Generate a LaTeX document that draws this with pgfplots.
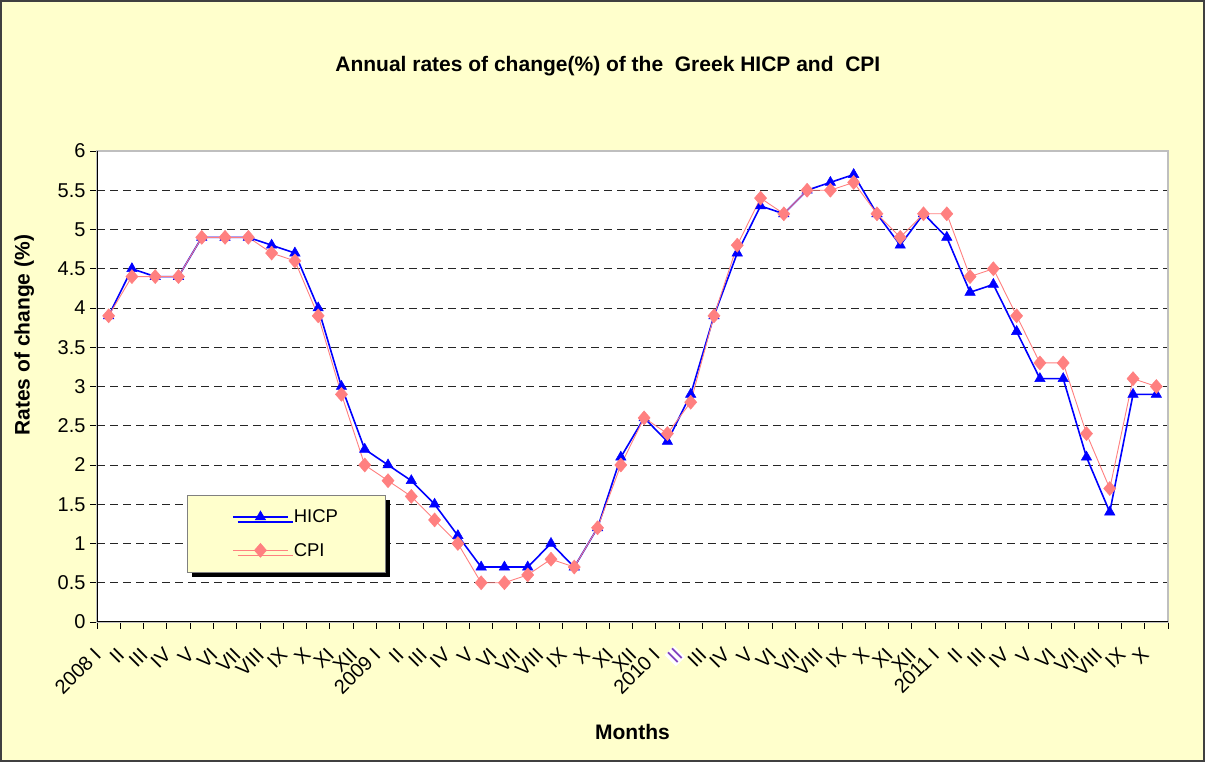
\documentclass[border=0pt]{standalone}
\usepackage{pgfplots}
\pgfplotsset{compat=1.18}
\usepackage{pgfplotstable}
\usepackage{fontspec}
\setmainfont{Liberation Sans}
\usetikzlibrary{shadows}
\definecolor{bgyellow}{HTML}{FFFFCC}
\definecolor{cpired}{HTML}{FF8080}
\definecolor{framegray}{HTML}{404040}
\definecolor{hicpblue}{HTML}{0000FF}

\pgfplotstableread{
x hicp cpi
0 3.9 3.9
1 4.5 4.4
2 4.4 4.4
3 4.4 4.4
4 4.9 4.9
5 4.9 4.9
6 4.9 4.9
7 4.8 4.7
8 4.7 4.6
9 4.0 3.9
10 3.0 2.9
11 2.2 2.0
12 2.0 1.8
13 1.8 1.6
14 1.5 1.3
15 1.1 1.0
16 0.7 0.5
17 0.7 0.5
18 0.7 0.6
19 1.0 0.8
20 0.7 0.7
21 1.2 1.2
22 2.1 2.0
23 2.6 2.6
24 2.3 2.4
25 2.9 2.8
26 3.9 3.9
27 4.7 4.8
28 5.3 5.4
29 5.2 5.2
30 5.5 5.5
31 5.6 5.5
32 5.7 5.6
33 5.2 5.2
34 4.8 4.9
35 5.2 5.2
36 4.9 5.2
37 4.2 4.4
38 4.3 4.5
39 3.7 3.9
40 3.1 3.3
41 3.1 3.3
42 2.1 2.4
43 1.4 1.7
44 2.9 3.1
45 2.9 3.0
}\datatable

\begin{document}
\begin{tikzpicture}
\useasboundingbox (0pt,0pt) rectangle (1205pt,762pt);
\fill[bgyellow] (0pt,0pt) rectangle (1205pt,762pt);
\draw[framegray, line width=2pt] (1pt,1pt) rectangle (1204pt,761pt);
\begin{axis}[
  at={(97pt,140pt)}, anchor=south west,
  scale only axis, width=1071pt, height=471pt,
  xmin=-0.5, xmax=45.5, ymin=0, ymax=6,
  axis background/.style={fill=white},
  axis line style={draw=black!25, line width=1.5pt},
  tick pos=left, tick align=outside,
  tick style={black, line width=0.8pt},
  major tick length=7pt,
  ytick={0,0.5,...,6},
  yticklabels={0,0.5,1,1.5,2,2.5,3,3.5,4,4.5,5,5.5,6},
  yticklabel style={font=\fontsize{20}{22}\selectfont, xshift=-1pt},
  xtick={-0.5,0.5,...,45.5},
  xticklabels={2008 I,II,III,IV,V,VI,VII,VIII,IX,X,XI,XII,
               2009 I,II,III,IV,V,VI,VII,VIII,IX,X,XI,XII,
               2010 I,{\setlength{\fboxsep}{1pt}\colorbox{white}{\textcolor[HTML]{8040C0}{II}}},III,IV,V,VI,VII,VIII,IX,X,XI,XII,
               2011 I,II,III,IV,V,VI,VII,VIII,IX,X,{}},
  xticklabel style={font=\fontsize{20}{22}\selectfont, xshift=3pt, yshift=-20pt, anchor=east, rotate=45},
  ymajorgrids,
  major grid style={black!85, line width=0.9pt, dash pattern=on 8pt off 5pt},
  title={Annual rates of change(\%) of the\ \ Greek HICP and\ \ CPI},
  title style={font=\bfseries\fontsize{21}{24}\selectfont, at={(0.477,1.168)}, anchor=center},
  xlabel={Months},
  xlabel style={font=\bfseries\fontsize{21}{24}\selectfont, at={(0.5,-0.2335)}, anchor=center},
  ylabel={Rates of change (\%)},
  ylabel style={font=\bfseries\fontsize{21}{24}\selectfont, at={(-0.0680,0.609)}, anchor=center},
  legend cell align=left,
  legend image code/.code={
    \draw[mark repeat=2,mark phase=2,#1] plot coordinates {(0pt,0pt) (27.5pt,0pt) (55pt,0pt)};
  },
  legend style={at={(0.084,0.2696)}, anchor=north west, fill=bgyellow, draw=black!50,
    inner xsep=45pt, inner ysep=12.5pt, row sep=15pt, column sep=3pt,
    font=\fontsize{18.5}{20}\selectfont,
    drop shadow={shadow xshift=5pt, shadow yshift=-5pt, fill=black, opacity=1}},
]
\addplot[hicpblue, line width=1.6pt, mark=triangle*, mark size=6pt, mark options={solid, fill=hicpblue, draw=hicpblue, line width=0.5pt}]
  table[x=x, y=hicp] {\datatable};
\addlegendentry{HICP}
\addplot[cpired, line width=0.9pt, mark=diamond*, mark size=7pt, mark options={solid, xscale=1.15, fill=cpired, draw=cpired, line width=0.5pt}]
  table[x=x, y=cpi] {\datatable};
\addlegendentry{CPI}
\draw[black, line width=1.5pt] (rel axis cs:0,1) -- (rel axis cs:0,0) -- (rel axis cs:1,0);
\end{axis}
\end{tikzpicture}
\end{document}
